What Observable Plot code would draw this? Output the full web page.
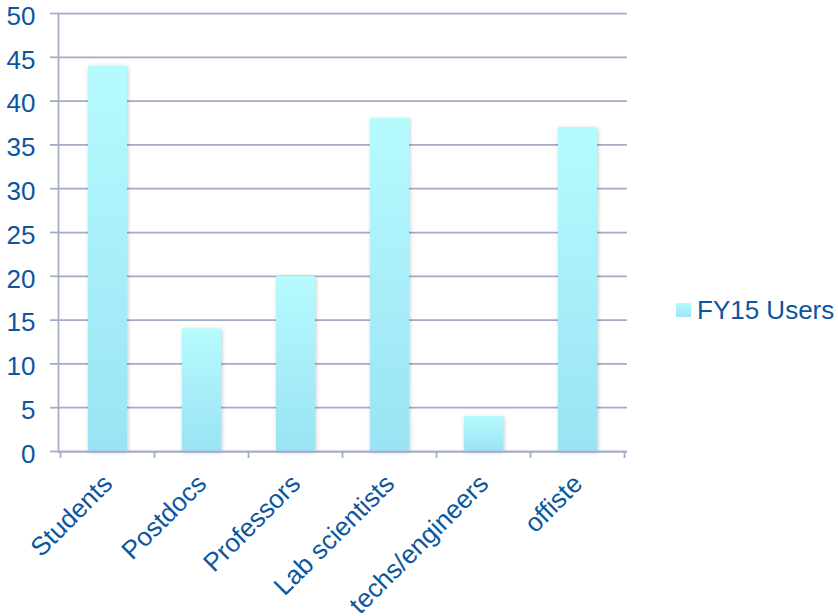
<!DOCTYPE html>
<html>
<head>
<meta charset="utf-8">
<script src="https://cdn.jsdelivr.net/npm/d3@7"></script>
<script src="https://cdn.jsdelivr.net/npm/@observablehq/plot@0.6"></script>
<style>
  html, body { margin: 0; padding: 0; background: #fff; }
  #wrap { position: relative; width: 838px; height: 616px; font-family: "Liberation Sans", Arial, sans-serif; }
  #legend { position: absolute; left: 676px; top: 296px; height: 28px; display: flex; align-items: center; color: #0c559f; font-size: 26px; white-space: nowrap; }
  #legend .sw { width: 15px; height: 14px; margin-right: 6px; background: linear-gradient(#b5fbfe, #9ee5f5); }
</style>
</head>
<body>
<div id="wrap">
  <div id="chart"></div>
  <div id="legend"><span class="sw"></span><span id="legendLabel"></span></div>
</div>
<script>
const categories = ["Students", "Postdocs", "Professors", "Lab scientists", "techs/engineers", "offiste"];
const users = [44, 14, 20, 38, 4, 37];
const yTicks = [0, 5, 10, 15, 20, 25, 30, 35, 40, 45, 50];
const seriesName = "FY15 Users";

const data = categories.map((c, i) => ({category: c, value: users[i]}));
const gridColor = "#a4abc9";
const textColor = "#0c559f";

document.getElementById("legendLabel").textContent = seriesName;

const plot = Plot.plot({
  width: 838,
  height: 616,
  marginLeft: 58,
  marginRight: 211,
  marginTop: 13,
  marginBottom: 165,
  style: {fontFamily: "Liberation Sans, Arial, sans-serif", fontSize: "26px", color: textColor, background: "#fff", overflow: "visible"},
  x: {domain: categories, paddingInner: 0.59, paddingOuter: 0.295, label: null},
  y: {domain: [0, 50], label: null},
  marks: [
    Plot.gridY({ticks: yTicks, stroke: gridColor, strokeOpacity: 1, strokeWidth: 1.75}),
    Plot.axisY({ticks: yTicks, tickSize: 8, text: null, stroke: gridColor, strokeWidth: 1.75, label: null}),
    Plot.axisY({ticks: yTicks, tickSize: 0, tickPadding: 23, fontSize: 26, dy: 3, label: null}),
    Plot.frame({anchor: "left", stroke: gridColor, strokeWidth: 1.75}),
    Plot.barY(data, {x: "category", y: "value", fill: "url(#barGrad)"}),
    Plot.ruleY([0], {stroke: gridColor, strokeWidth: 1.75}),
    (index, {x, y}) => {
      const step = x.step(), bw = x.bandwidth();
      const bounds = categories.map(c => x(c) - (step - bw) / 2);
      bounds.push(bounds[bounds.length - 1] + step);
      const g = d3.create("svg:g").attr("stroke", gridColor).attr("stroke-width", 1.75);
      g.selectAll("line").data(bounds).join("line")
        .attr("x1", d => d).attr("x2", d => d)
        .attr("y1", y(0)).attr("y2", y(0) + 7);
      return g.node();
    },
    Plot.axisX({tickSize: 0, tickRotate: -45, tickPadding: 28, fontSize: 26, label: null})
  ]
});

const svg = d3.select(plot);
const defs = svg.insert("defs", ":first-child");
const grad = defs.append("linearGradient").attr("id", "barGrad")
  .attr("x1", 0).attr("y1", 0).attr("x2", 0).attr("y2", 1);
grad.append("stop").attr("offset", "0%").attr("stop-color", "#b5fbfe");
grad.append("stop").attr("offset", "100%").attr("stop-color", "#9be2f4");
const f = defs.append("filter").attr("id", "barShadow").attr("x", "-30%").attr("y", "-10%").attr("width", "160%").attr("height", "120%");
f.append("feDropShadow").attr("dx", 1).attr("dy", 1).attr("stdDeviation", 2).attr("flood-color", "#000").attr("flood-opacity", 0.22);
svg.selectAll('g[fill="url(#barGrad)"]').attr("filter", "url(#barShadow)");

document.getElementById("chart").appendChild(plot);
</script>
</body>
</html>
